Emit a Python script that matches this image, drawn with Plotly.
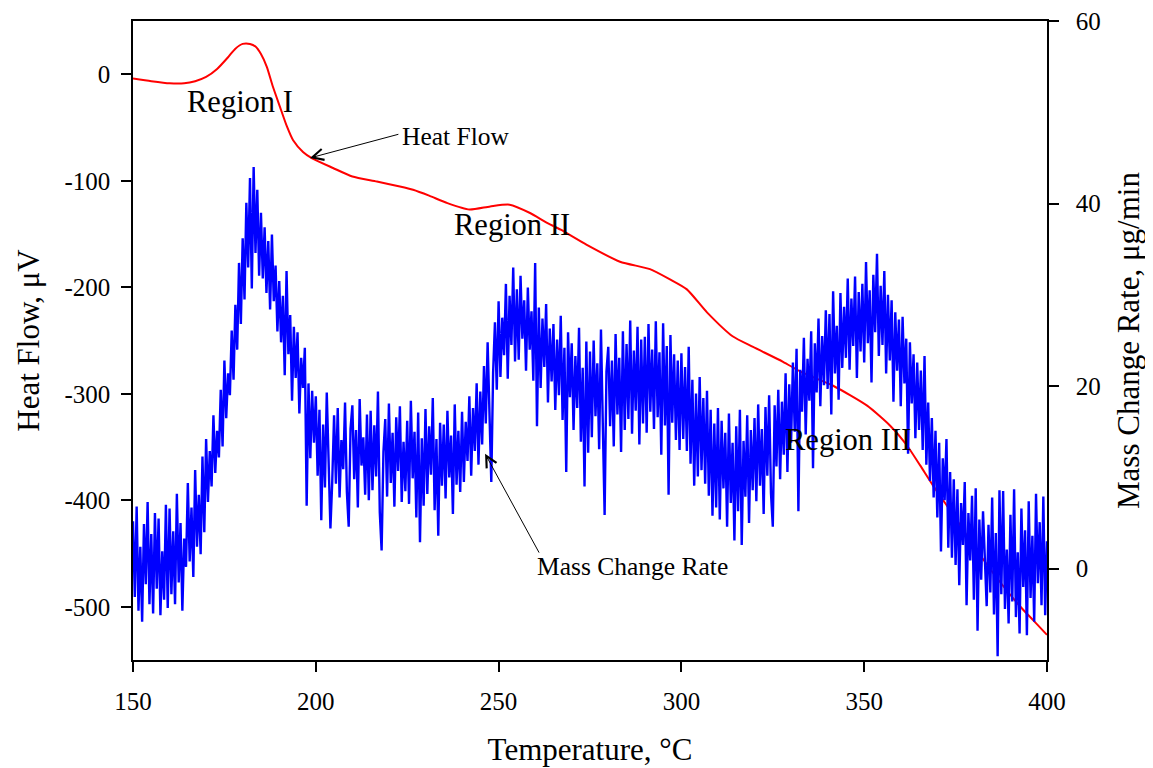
import plotly.graph_objects as go

# ---- Heat flow (left axis, µV) ----
hf_temp = [150, 155, 160, 164, 167, 170, 173, 176, 178, 180, 182, 183.5, 185, 186.6,
           188.3, 190.2, 192.1, 193.8, 196.5, 199, 204.7, 210, 216.7, 223, 226.6, 231,
           236, 242, 247.7, 253, 258.6, 263, 267, 274, 283.2, 291.4, 296.9, 301.5, 307,
           314, 319.6, 327.8, 333, 341.5, 350.8, 357.1, 361.7, 365.3, 368.8, 375, 380,
           386.3, 392.6, 396.2, 400]
hf_value = [-4, -6.5, -8.5, -8.5, -6.5, -2.5, 5, 16, 24, 28.5, 28.5, 26, 19, 7,
            -12, -30.6, -49, -62, -73, -79, -88, -96, -100.7, -105.4, -108.5, -114,
            -121, -127, -124.1, -122.5, -130.3, -139, -146, -160, -176, -183, -192.7, -202, -223.6,
            -246, -256, -270, -280, -292.5, -311.2, -330, -348.6, -367.3, -386, -417, -443,
            -473, -499.5, -512.6, -526.4]

# ---- Mass change rate (right axis, µg/min), one reading every 0.5 °C from 150 to 400 ----
mcr_value = [
    5.2, -3.1, 6.8, -4.6, 2.4, -5.8, 4.9, -1.7, 7.3, -3.9,
    3.8, -4.9, 6.1, -2.2, 5.5, -5.1, 1.9, -3.4, 7.0, -4.3,
    6.6, -2.8, 4.1, -3.9, 8.2, -1.5, 5.0, -4.6, 3.3, 0.2,
    9.4, 0.8, 6.7, -0.9, 10.8, 2.4, 8.1, 1.6, 12.3, 4.0,
    14.2, 7.3, 12.9, 9.0, 16.8, 10.5, 15.1, 12.2, 19.6, 13.4,
    22.8, 16.5, 21.4, 19.0, 26.1, 20.7, 28.9, 24.0, 33.5, 26.8,
    36.2, 29.5, 40.1, 33.0, 42.8, 30.7, 44.0, 34.6, 41.5, 32.1,
    39.0, 31.8, 37.4, 30.2, 35.9, 28.4, 36.6, 29.3, 33.2, 26.0,
    31.5, 24.8, 29.9, 21.2, 32.6, 23.5, 27.8, 18.4, 26.5, 20.9,
    25.9, 17.0, 23.1, 19.8, 24.2, 6.9, 20.3, 12.1, 19.5, 13.8,
    18.9, 10.2, 17.4, 5.3, 15.8, 8.9, 19.3, 11.7, 4.4, 9.6,
    16.8, 9.3, 17.6, 7.8, 14.1, 10.9, 18.2, 8.4, 4.6, 15.3,
    17.9, 9.8, 15.2, 6.7, 18.6, 11.3, 14.4, 8.1, 16.9, 7.5,
    17.3, 8.6, 15.7, 10.1, 19.4, 6.2, 2.0, 12.8, 16.4, 7.9,
    18.1, 9.4, 14.9, 6.8, 16.6, 10.7, 17.8, 7.3, 13.9, 8.5,
    16.2, 7.1, 18.4, 9.9, 15.0, 5.6, 17.1, 2.9, 14.3, 6.9,
    17.5, 8.2, 15.6, 10.3, 18.7, 6.4, 14.2, 3.6, 16.0, 9.1,
    15.8, 7.7, 17.3, 10.0, 14.6, 6.0, 18.0, 9.2, 15.1, 8.4,
    17.2, 9.5, 16.1, 11.8, 18.9, 10.2, 17.6, 12.9, 20.3, 11.4,
    19.4, 13.6, 22.2, 15.9, 24.8, 17.1, 9.5, 21.5, 27.0, 19.6,
    29.3, 21.0, 27.5, 23.4, 31.2, 20.8, 29.9, 24.5, 33.0, 22.7,
    30.6, 22.9, 32.1, 25.2, 29.4, 21.7, 30.8, 24.0, 28.2, 20.6,
    33.5, 15.6, 28.6, 19.8, 27.4, 22.1, 29.0, 18.2, 26.3, 20.5,
    26.8, 17.4, 25.1, 19.0, 27.7, 16.3, 24.2, 10.6, 25.9, 18.8,
    24.7, 15.2, 23.3, 17.6, 26.4, 13.9, 22.0, 9.0, 24.9, 12.7,
    23.8, 14.4, 25.0, 16.7, 22.5, 13.1, 26.2, 15.8, 5.9, 21.6,
    24.3, 15.6, 22.8, 13.4, 25.7, 16.9, 23.1, 12.8, 26.0, 15.2,
    24.6, 16.4, 27.2, 14.8, 23.9, 17.3, 26.5, 13.6, 25.1, 15.9,
    25.4, 14.9, 26.8, 17.2, 24.0, 15.3, 27.1, 16.6, 23.7, 12.5,
    26.9, 15.7, 24.4, 8.1, 25.6, 16.0, 23.5, 14.1, 22.8, 13.0,
    23.6, 14.2, 22.1, 12.9, 24.3, 11.5, 20.7, 9.1, 19.2, 10.1,
    21.0, 10.8, 18.7, 9.3, 19.5, 8.0, 17.4, 5.8, 15.9, 6.7,
    17.6, 5.4, 16.2, 8.8, 14.9, 4.6, 17.0, 7.2, 13.8, 3.1,
    15.6, 6.3, 17.4, 2.6, 14.0, 7.9, 16.8, 5.0, 15.2, 8.6,
    16.5, 7.4, 18.0, 9.1, 15.3, 6.0, 17.7, 10.2, 19.0, 8.3,
    4.6, 17.9, 11.2, 19.6, 9.8, 18.3, 12.5, 21.4, 10.6, 20.2,
    13.8, 22.6, 15.0, 24.1, 6.3, 21.8, 17.2, 25.3, 14.7, 23.0,
    18.4, 26.0, 11.0, 24.7, 19.3, 27.4, 17.8, 25.5, 20.1, 28.3,
    19.7, 27.9, 16.9, 30.4, 21.4, 26.6, 18.5, 30.2, 22.0, 28.7,
    23.1, 31.8, 21.8, 29.6, 24.4, 32.0, 20.9, 30.3, 23.8, 31.2,
    22.6, 33.6, 24.7, 30.5, 20.4, 32.2, 25.9, 34.5, 23.3, 31.0,
    24.5, 32.6, 21.4, 30.0, 22.8, 29.4, 18.3, 28.1, 21.7, 27.3,
    17.8, 27.6, 20.3, 25.2, 12.6, 24.8, 18.1, 23.5, 14.3, 22.6,
    15.2, 21.7, 13.0, 23.3, 11.4, 18.2, 9.6, 16.5, 7.8, 15.1,
    5.6, 13.8, 1.9, 12.1, 7.5, 14.2, 2.3, 10.6, 1.2, 9.8,
    0.4, 8.7, -1.8, 7.2, 2.6, 9.5, -4.0, 6.1, 0.9, 8.0,
    -3.4, 8.8, -6.8, 5.4, -1.2, 6.3, 0.5, -4.1, 4.8, -2.6,
    7.8, -5.0, 3.9, -9.6, 8.6, -2.8, 8.5, -4.4, 2.1, -6.0,
    5.9, -3.6, 8.7, -5.3, 1.8, -7.1, 6.6, -2.0, 4.2, -7.3,
    7.4, -3.2, 3.6, -5.8, 8.2, -1.6, 5.1, -4.0, 7.9, -5.1,
    3.0,
]
mcr_temp = [150 + 0.5 * i for i in range(len(mcr_value))]

x_ticks = [150, 200, 250, 300, 350, 400]
y_ticks = [-500, -400, -300, -200, -100, 0]
y_tick_text = ["-500", "-400", "-300", "-200", "-100", "0"]
y2_ticks = [0, 20, 40, 60]

FONT = "Liberation Serif, Times New Roman, serif"

fig = go.Figure()
fig.add_trace(go.Scatter(x=hf_temp, y=hf_value, mode="lines", yaxis="y",
                         line=dict(color="#ff0000", width=2, shape="spline", smoothing=0.6),
                         name="Heat Flow", showlegend=False))
fig.add_trace(go.Scatter(x=mcr_temp, y=mcr_value, mode="lines", yaxis="y2",
                         line=dict(color="#0000ff", width=2.4),
                         name="Mass Change Rate", showlegend=False))

axis_common = dict(showgrid=False, zeroline=False, showline=True, linecolor="black",
                   linewidth=1.5, ticks="outside", ticklen=10, tickwidth=1.5, automargin=False,
                   ticklabeloverflow="allow",
                   tickcolor="black", tickfont=dict(family=FONT, size=25, color="black"))

# the page body adds an 8 px offset, so the figure is 8 px smaller on each side
fig.update_layout(
    width=1145, height=760,
    margin=dict(l=125, r=106, t=13, b=108),
    paper_bgcolor="white", plot_bgcolor="white",
    font=dict(family=FONT, color="black"),
    xaxis=dict(range=[150, 400], tickvals=x_ticks, mirror=True, ticklabelstandoff=8,
               title=dict(text="Temperature, °C", font=dict(family=FONT, size=31), standoff=25),
               **axis_common),
    yaxis=dict(range=[-550, 50], tickvals=y_ticks, ticktext=y_tick_text, ticklabelstandoff=6,
               title=dict(text="Heat Flow, μV", font=dict(family=FONT, size=31), standoff=16),
               **axis_common),
    yaxis2=dict(range=[-10, 60], tickvals=y2_ticks, overlaying="y", side="right",
                ticklabelstandoff=12,
                title=dict(text="Mass Change Rate, μg/min", font=dict(family=FONT, size=31), standoff=18),
                **axis_common),
)

ann_font = dict(family=FONT, size=25.5, color="black")
reg_font = dict(family=FONT, size=30.5, color="black")

fig.add_annotation(x=198.4, y=-78.6, ax=223, ay=-56, xref="x", yref="y", axref="x", ayref="y",
                   text="", showarrow=True, arrowhead=5, arrowsize=2.2, arrowwidth=1, arrowcolor="black")
fig.add_annotation(x=238.3, y=-58, xref="x", yref="y", text="Heat Flow", showarrow=False, font=ann_font)

fig.add_annotation(x=246.3, y=12.6, ax=261.3, ay=1.6, xref="x", yref="y2", axref="x", ayref="y2",
                   text="", showarrow=True, arrowhead=5, arrowsize=2.2, arrowwidth=1, arrowcolor="black")
fig.add_annotation(x=286.5, y=0.2, xref="x", yref="y2", text="Mass Change Rate", showarrow=False, font=ann_font)

fig.add_annotation(x=179.3, y=-26, xref="x", yref="y", text="Region I", showarrow=False, font=reg_font)
fig.add_annotation(x=253.7, y=-142, xref="x", yref="y", text="Region II", showarrow=False, font=reg_font)
fig.add_annotation(x=345.6, y=-343, xref="x", yref="y", text="Region III", showarrow=False, font=reg_font)

fig.write_html("out.html")
